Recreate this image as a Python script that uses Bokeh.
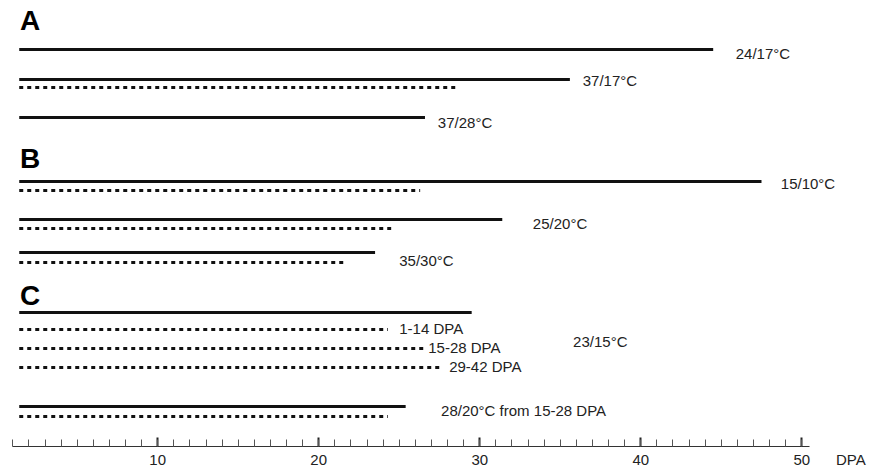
from bokeh.plotting import figure
from bokeh.models import Range1d, LinearAxis, FixedTicker, ColumnDataSource
from bokeh.core.properties import value
from bokeh.embed import file_html
from bokeh.resources import INLINE

# ---------------- data (DPA) ----------------
start_dpa = 1.4
# solid lines (one per treatment row)
solid_labels = ["24/17°C", "37/17°C", "37/28°C", "15/10°C", "25/20°C", "35/30°C",
                "23/15°C", "28/20°C from 15-28 DPA"]
solid_end = [44.5, 35.6, 26.6, 47.5, 31.4, 23.5, 29.5, 25.4]
# dotted lines
dotted_names = ["37/17°C", "15/10°C", "25/20°C", "35/30°C",
                "1-14 DPA", "15-28 DPA", "29-42 DPA", "28/20°C from 15-28 DPA"]
dotted_end = [28.6, 26.3, 24.5, 21.6, 24.3, 26.6, 27.6, 24.3]
# text annotations
note_text = ["24/17°C", "37/17°C", "37/28°C", "15/10°C", "25/20°C", "35/30°C",
             "1-14 DPA", "15-28 DPA", "29-42 DPA", "23/15°C", "28/20°C from 15-28 DPA"]
panel_letters = ["A", "B", "C"]
major_ticks = [10, 20, 30, 40, 50]
minor_ticks = list(range(1, 51))
axis_title = "DPA"
axis_title_pos = 53.05

# ---------------- layout (page pixel rows, label anchors) ----------------
solid_y = [49, 79, 117, 181, 219, 252, 312, 406]
dotted_y = [87, 190, 228, 262, 329, 348, 367, 416]
note_x = [45.9, 36.4, 27.4, 48.7, 33.3, 25.0, 25.0, 26.8, 28.1, 35.8, 27.6]
note_y = [53, 80, 122, 183, 223, 260, 328, 347, 366, 341, 410]
letter_x = [1.45, 1.45, 1.45]
letter_y = [20, 158, 295]

W, H = 884, 470
p = figure(width=W, height=H, output_backend="svg", toolbar_location=None,
           x_axis_type=None, y_axis_type=None,
           x_range=Range1d(0.236, 55.14), y_range=Range1d(446, 0),
           min_border_left=0, min_border_right=0, min_border_top=0, min_border_bottom=24)
p.outline_line_color = None
p.xgrid.visible = False
p.ygrid.visible = False
p.background_fill_color = "white"
p.border_fill_color = "white"

solid_src = ColumnDataSource(dict(x0=[start_dpa] * len(solid_end), x1=solid_end, y=solid_y))
p.segment(x0="x0", y0="y", x1="x1", y1="y", source=solid_src,
          line_color="#111111", line_width=3, line_cap="butt")

dotted_src = ColumnDataSource(dict(x0=[start_dpa] * len(dotted_end), x1=dotted_end, y=dotted_y))
p.segment(x0="x0", y0="y", x1="x1", y1="y", source=dotted_src,
          line_color="#111111", line_width=3, line_cap="butt", line_dash="4 4")

p.text(x=note_x, y=note_y, text=note_text, text_font=value("Liberation Sans"),
       text_font_size="15px", text_color="#222222", text_baseline="middle", text_align="left")

p.text(x=letter_x, y=letter_y, text=panel_letters, text_font=value("Liberation Sans"),
       text_font_size="28px", text_font_style="bold", text_color="#000000",
       text_baseline="middle", text_align="left")

# axis line + tick marks (labels are drawn by the second axis)
tick_axis = LinearAxis(ticker=FixedTicker(ticks=major_ticks, minor_ticks=minor_ticks))
tick_axis.bounds = (1, 50.5)
tick_axis.axis_line_color = "#333333"
tick_axis.axis_line_width = 1
tick_axis.major_tick_in = 9
tick_axis.major_tick_out = 0
tick_axis.minor_tick_in = 7
tick_axis.minor_tick_out = 0
tick_axis.major_tick_line_color = "#222222"
tick_axis.major_tick_line_width = 2
tick_axis.minor_tick_line_color = "#555555"
tick_axis.minor_tick_line_width = 1
tick_axis.major_label_standoff = 0
tick_axis.major_label_overrides = {t: "" for t in major_ticks}
tick_axis.major_label_text_font_size = "1px"
p.add_layout(tick_axis, "below")

# tick labels row, including the axis title at the right end
label_axis = LinearAxis(ticker=FixedTicker(ticks=major_ticks + [axis_title_pos], minor_ticks=[]))
label_axis.major_label_overrides = {axis_title_pos: axis_title}
label_axis.axis_line_color = None
label_axis.major_tick_line_color = None
label_axis.minor_tick_line_color = None
label_axis.major_tick_in = 0
label_axis.major_tick_out = 0
label_axis.major_label_standoff = 4
label_axis.major_label_text_font = "Liberation Sans"
label_axis.major_label_text_font_size = "15px"
label_axis.major_label_text_color = "#222222"
p.add_layout(label_axis, "below")

open("out.html", "w").write(file_html(p, INLINE))
